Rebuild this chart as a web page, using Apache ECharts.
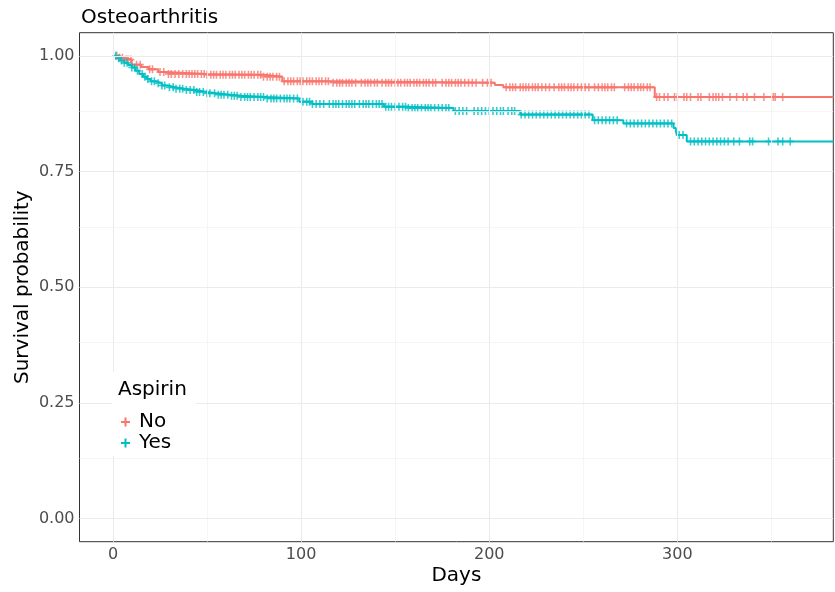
<!DOCTYPE html>
<html>
<head>
<meta charset="utf-8">
<script src="https://cdn.jsdelivr.net/npm/echarts@6/dist/echarts.min.js"></script>
<style>
html,body{margin:0;padding:0;background:#fff;}
#chart{width:835px;height:592px;}
</style>
</head>
<body>
<div id="chart"></div>
<script>
// ---- data ----
var groups = ['No', 'Yes'];
var xTicks = [0, 100, 200, 300];
var xMinorTicks = [50, 150, 250, 350];
var yTicks = [0, 0.25, 0.5, 0.75, 1.0];
var yMinorTicks = [0.125, 0.375, 0.625, 0.875];

var noTimes = [0, 3, 6, 10, 15, 19, 24, 28, 50, 80, 90, 116, 203, 207.5, 288];
var noSurv  = [1.0, 0.996, 0.992, 0.981, 0.976, 0.971, 0.965, 0.961, 0.959, 0.955, 0.945, 0.942, 0.937, 0.932, 0.911];

var yesTimes = [0, 2, 4, 6, 8, 10, 12, 14, 16, 18, 20, 23, 26, 29, 33, 38, 44, 50, 55, 62, 68, 82, 99, 106, 144, 156, 181, 216.5, 255, 271.3, 298, 299.2, 299.8, 305];
var yesSurv  = [1.0, 0.995, 0.99, 0.985, 0.98, 0.975, 0.968, 0.961, 0.955, 0.95, 0.945, 0.941, 0.936, 0.932, 0.929, 0.926, 0.922, 0.919, 0.916, 0.914, 0.911, 0.908, 0.901, 0.896, 0.890, 0.887, 0.881, 0.873, 0.861, 0.854, 0.844, 0.837, 0.829, 0.815];

var lastTime = 383;

var noCensor = [2, 3.5, 5, 7, 8, 9.5, 12.5, 14.5, 19.5, 21, 25, 27, 29.5, 31, 33, 35,
  37, 39, 40.5, 42, 43.5, 45, 47, 48.5, 50, 52, 53.5, 55, 57, 58.5, 60, 62, 63.5, 65, 67, 68.5, 70, 72, 73.5, 75, 77, 78.5,
  80, 82, 83.5, 85, 87, 88.5, 91, 93, 94.5, 96, 98, 99.5, 101, 103, 104.5, 106, 108, 109.5, 111, 113, 114.5, 117, 119, 120.5,
  122, 124, 125.5, 127, 129, 132, 134, 135.5, 137, 139, 140.5, 143, 145, 146.5, 148, 150, 151.5, 153, 155, 156.5, 158, 160,
  161.5, 163, 165, 166.5, 168, 170, 171.5, 175, 177, 178.5, 180, 182, 183.5, 185, 187, 189, 191, 193, 196.5, 199, 201,
  209, 211, 212.5, 214, 216.5, 218, 219.5, 221, 223, 224.5, 226, 228, 230, 232, 234.5, 237, 238.5, 240, 242, 243.5, 245,
  247, 249, 251, 253, 256, 258, 260, 261.5, 263, 265, 266.5, 272, 274, 275.5, 277, 279, 280.5, 282, 284, 285.5,
  289, 290.5, 293, 295, 298.5, 300, 303.5, 305, 307, 311, 312.5, 317, 319, 320.5, 322, 324, 328, 331.5, 335, 337, 341,
  346, 351, 352, 356];

var yesCensor = [1.5, 3, 4.5, 6, 7.5, 10, 11.5, 13, 15.5, 17, 18.5, 20.5, 22, 24, 26, 27.5, 30, 32, 33.5, 35.5, 37, 39, 41,
  43, 44.5, 46, 48, 50, 51.5, 54, 56, 57.5, 59, 61, 63, 64.5, 66, 68, 70, 71.5, 73, 75, 77, 78.5, 80, 82, 84, 85.5, 87, 89,
  91, 92.5, 94, 96, 98, 101, 103, 104.5, 106, 108, 110, 112, 115, 117, 118.5, 120, 122, 124, 125.5, 127, 128.5, 131, 133,
  134.5, 136, 138, 140, 141.5, 143, 145, 146.5, 148, 150, 152, 154, 155.5, 157, 159, 160.5, 162, 164, 166, 167.5, 169, 171,
  173, 175, 177, 178.5, 182, 184, 186, 188, 192, 194, 196, 198, 200, 202, 204, 206, 207.5, 210, 212, 213.5, 217, 219, 221,
  223, 225, 227, 229, 231, 233, 235, 237, 239, 241, 243, 245, 247, 249, 251, 253, 256, 258, 260, 262, 264, 266, 268, 273,
  275, 277, 279, 281, 283, 285, 287, 289, 291, 293, 295, 297, 301, 303, 307, 309, 311, 313, 315, 317, 319, 321, 323, 325,
  327, 330, 333, 338.5, 340, 348.5, 353.5, 356, 360];

var colors = ['#F8766D', '#00BFC4'];

// ---- helpers ----
function survAt(times, surv, t) {
  var s = surv[0];
  for (var i = 0; i < times.length; i++) { if (times[i] <= t) s = surv[i]; }
  return s;
}
function stepData(times, surv) {
  var d = times.map(function (t, i) { return [t, surv[i]]; });
  d.push([lastTime, surv[surv.length - 1]]);
  return d;
}
function censorData(times, surv, cens) {
  return cens.map(function (t) { return [t, survAt(times, surv, t)]; });
}

var plusPath = 'path://M-0.9,-4H0.9V-0.9H4V0.9H0.9V4H-0.9V0.9H-4V-0.9H-0.9Z';
var FONT = 'DejaVu Sans';

var gridLines = [];
xTicks.forEach(function (v) { gridLines.push({ xAxis: v, lineStyle: { color: '#EBEBEB', width: 1.1, type: 'solid' } }); });
xMinorTicks.forEach(function (v) { gridLines.push({ xAxis: v, lineStyle: { color: '#F3F3F3', width: 0.8, type: 'solid' } }); });
yTicks.forEach(function (v) { gridLines.push({ yAxis: v, lineStyle: { color: '#EBEBEB', width: 1.1, type: 'solid' } }); });
yMinorTicks.forEach(function (v) { gridLines.push({ yAxis: v, lineStyle: { color: '#F3F3F3', width: 0.8, type: 'solid' } }); });

var chart = echarts.init(document.getElementById('chart'), null, { renderer: 'canvas' });
chart.setOption({
  animation: false,
  backgroundColor: '#ffffff',
  textStyle: { fontFamily: FONT },
  title: {
    text: 'Osteoarthritis', left: 76, top: 3,
    textStyle: { fontFamily: FONT, fontSize: 20, fontWeight: 'normal', color: '#000' }
  },
  grid: {
    left: 79.5, right: 1.7, top: 32.7, bottom: 50.3,
    outerBoundsMode: 'none', containLabel: false,
    show: true, borderColor: '#333333', borderWidth: 1, backgroundColor: '#ffffff', z: 0
  },
  xAxis: {
    type: 'value', min: -17.8, max: 382.9,
    name: 'Days', nameLocation: 'middle', nameGap: 24, nameMoveOverlap: false,
    nameTextStyle: { fontFamily: FONT, fontSize: 20, color: '#000' },
    axisLine: { show: false },
    splitLine: { show: false },
    axisTick: { show: true, customValues: xTicks, length: 4, lineStyle: { color: '#333' } },
    axisLabel: { customValues: xTicks, fontFamily: FONT, fontSize: 16, color: '#4D4D4D', margin: 5 }
  },
  yAxis: {
    type: 'value', min: -0.05, max: 1.05,
    name: 'Survival probability', nameLocation: 'middle', nameGap: 47, nameRotate: 90, nameMoveOverlap: false,
    nameTextStyle: { fontFamily: FONT, fontSize: 20, color: '#000' },
    axisLine: { show: false },
    splitLine: { show: false },
    axisTick: { show: true, customValues: yTicks, length: 4, lineStyle: { color: '#333' } },
    axisLabel: {
      customValues: yTicks, fontFamily: FONT, fontSize: 16, color: '#4D4D4D', margin: 5,
      formatter: function (v) { return v.toFixed(2); }
    }
  },
  legend: {
    data: [
      { name: groups[0], icon: plusPath },
      { name: groups[1], icon: plusPath }
    ],
    orient: 'vertical', left: 116, top: 407, itemGap: 1,
    itemWidth: 9, itemHeight: 9, z: 60,
    textStyle: { fontFamily: FONT, fontSize: 20, color: '#000', padding: [0, 0, 0, 4] }
  },
  graphic: [
    { type: 'rect', z: 50, shape: { x: 112, y: 372, width: 84, height: 84 }, style: { fill: '#ffffff' } },
    { type: 'text', z: 51, left: 118, top: 380, style: { text: 'Aspirin', font: '20px "DejaVu Sans"', fill: '#000' } }
  ],
  series: [
    {
      name: 'grid', type: 'line', data: [], silent: true, z: 1,
      markLine: { silent: true, symbol: ['none', 'none'], label: { show: false }, animation: false, data: gridLines }
    },
    {
      name: groups[0], type: 'line', step: 'end', data: stepData(noTimes, noSurv),
      showSymbol: false, symbol: plusPath, lineStyle: { color: colors[0], width: 2 }, itemStyle: { color: colors[0] }, z: 3
    },
    {
      name: groups[1], type: 'line', step: 'end', data: stepData(yesTimes, yesSurv),
      showSymbol: false, symbol: plusPath, lineStyle: { color: colors[1], width: 2 }, itemStyle: { color: colors[1] }, z: 3
    },
    {
      name: 'No censored', type: 'scatter', data: censorData(noTimes, noSurv, noCensor),
      symbol: plusPath, symbolSize: [7, 8], itemStyle: { color: colors[0] }, z: 4
    },
    {
      name: 'Yes censored', type: 'scatter', data: censorData(yesTimes, yesSurv, yesCensor),
      symbol: plusPath, symbolSize: [7, 8], itemStyle: { color: colors[1] }, z: 4
    }
  ]
});
</script>
</body>
</html>
